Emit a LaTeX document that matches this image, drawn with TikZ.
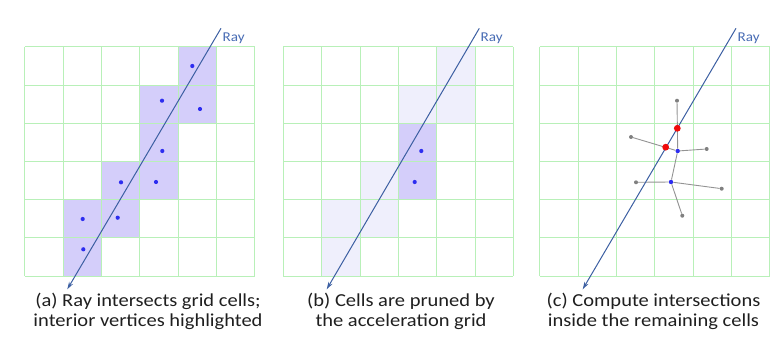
\documentclass[tikz,border=0pt]{standalone}
\usepackage{fontspec}
\setmainfont{Carlito}[FakeStretch=1.12]
\usetikzlibrary{arrows.meta}
\definecolor{gridc}{RGB}{184,240,184}
\definecolor{hic}{RGB}{212,206,250}
\definecolor{loc}{RGB}{239,239,252}
\definecolor{rayc}{RGB}{60,95,162}
\definecolor{rayt}{RGB}{72,108,180}
\definecolor{dotc}{RGB}{45,45,240}
\definecolor{redc}{RGB}{240,10,10}
\definecolor{grayc}{RGB}{128,128,128}
\tikzset{
  gridline/.style={draw=gridc, line width=1pt},
  raypath/.style={draw=rayc, line width=1pt, -{Stealth[length=7.5pt,width=4.5pt]}},
  raylabel/.style={text=rayt, font=\fontsize{13.5}{14}\selectfont, anchor=west, inner sep=0pt},
  vdot/.style={circle, fill=dotc, inner sep=0pt, minimum size=4.2pt},
  vdotc/.style={circle, fill=dotc, inner sep=0pt, minimum size=4.4pt},
  gdot/.style={circle, fill=grayc, inner sep=0pt, minimum size=4pt},
  rdot/.style={circle, fill=redc, inner sep=0pt, minimum size=6.8pt},
  meshedge/.style={draw=grayc!85, line width=0.9pt},
  caption/.style={align=center, font=\fontsize{18.3}{19.7}\selectfont, inner sep=0pt, text=black!88}
}
\begin{document}
\begin{tikzpicture}[x=1pt,y=-1pt]
\useasboundingbox (0,0) rectangle (780,342);
\def\cw{38.35}
\def\ch{38.17}
% ---------- panel (a) ----------
\begin{scope}[shift={(24.7,47)}]
  \foreach \c/\r in {4/0,3/1,4/1,3/2,2/3,3/3,1/4,2/4,1/5}
    \fill[hic] (\c*\cw,\r*\ch) rectangle ++(\cw,\ch);
  \foreach \i in {0,...,6} {
    \draw[gridline] (\i*\cw,0) -- (\i*\cw,6*\ch);
    \draw[gridline] (0,\i*\ch) -- (6*\cw,\i*\ch);
  }
\end{scope}
\node[vdot] (a1) at (192.3,66) {};
\node[vdot] (a2) at (162,100.7) {};
\node[vdot] (a3) at (200,109) {};
\node[vdot] (a4) at (162.3,151) {};
\node[vdot] (a5) at (121,182.3) {};
\node[vdot] (a6) at (156,182) {};
\node[vdot] (a7) at (82.7,219) {};
\node[vdot] (a8) at (117.7,217.7) {};
\node[vdot] (a9) at (83.3,249.3) {};
\coordinate (ras) at (221,28.3);
\coordinate (rae) at (67.3,289.3);
\draw[raypath] (ras) -- (rae);
\node[raylabel] (rla) at (222.5,38) {Ray};
\node[caption] (capa) at (148,311.5) {(a) Ray intersects grid cells;\\interior vertices highlighted};
% ---------- panel (b) ----------
\begin{scope}[shift={(283.3,47)}]
  \foreach \c/\r in {4/0,3/1,4/1,2/3,1/4,2/4,1/5}
    \fill[loc] (\c*\cw,\r*\ch) rectangle ++(\cw,\ch);
  \foreach \c/\r in {3/2,3/3}
    \fill[hic] (\c*\cw,\r*\ch) rectangle ++(\cw,\ch);
  \foreach \i in {0,...,6} {
    \draw[gridline] (\i*\cw,0) -- (\i*\cw,6*\ch);
    \draw[gridline] (0,\i*\ch) -- (6*\cw,\i*\ch);
  }
\end{scope}
\node[vdot] (b1) at (421.3,151) {};
\node[vdot] (b2) at (414.7,182) {};
\coordinate (rbs) at (479.3,28.3);
\coordinate (rbe) at (326.7,289.3);
\draw[raypath] (rbs) -- (rbe);
\node[raylabel] (rlb) at (480.5,38) {Ray};
\node[caption] (capb) at (401,311.5) {(b) Cells are pruned by\\the acceleration grid};
% ---------- panel (c) ----------
\begin{scope}[shift={(539.7,47)}]
  \foreach \i in {0,...,6} {
    \draw[gridline] (\i*\cw,0) -- (\i*\cw,6*\ch);
    \draw[gridline] (0,\i*\ch) -- (6*\cw,\i*\ch);
  }
\end{scope}
\node[vdotc] (A) at (677.7,151) {};
\node[vdotc] (B) at (671,182) {};
\node[gdot] (g1) at (677,100.7) {};
\node[gdot] (g2) at (631,137) {};
\node[gdot] (g3) at (706.7,149) {};
\node[gdot] (g4) at (636,182.3) {};
\node[gdot] (g5) at (721.7,188.7) {};
\node[gdot] (g6) at (682.3,215.7) {};
\draw[meshedge] (g1) -- (A);
\draw[meshedge] (g2) -- (A);
\draw[meshedge] (A) -- (g3);
\draw[meshedge] (A) -- (B);
\draw[meshedge] (g4) -- (B);
\draw[meshedge] (B) -- (g5);
\draw[meshedge] (B) -- (g6);
\coordinate (rcs) at (736,28.3);
\coordinate (rce) at (582.7,289.3);
\draw[raypath] (rcs) -- (rce);
\node[rdot] (r1) at (677.3,128.3) {};
\node[rdot] (r2) at (665.7,147.2) {};
\node[raylabel] (rlc) at (737.5,38) {Ray};
\node[caption] (capc) at (653.5,311.5) {(c) Compute intersections\\inside the remaining cells};
\end{tikzpicture}
\end{document}
